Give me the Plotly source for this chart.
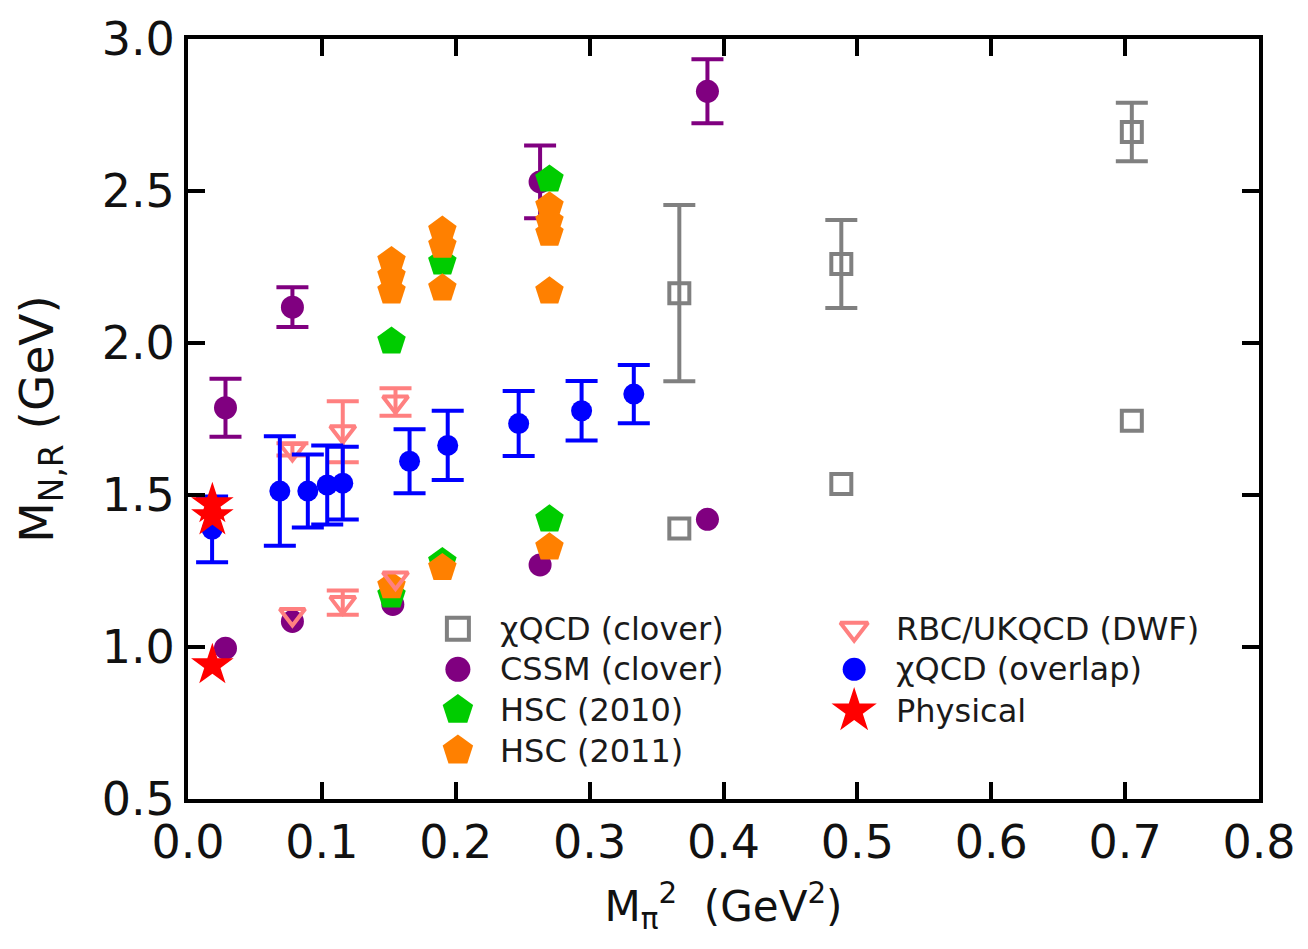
import plotly.graph_objects as go

# chiQCD (clover)
clover_x = [0.367, 0.367, 0.488, 0.488, 0.705, 0.705]
clover_y = [2.164, 1.390, 2.260, 1.536, 2.694, 1.744]
clover_err = [0.290, None, 0.145, None, 0.096, None]

# CSSM (clover)
cssm_x = [0.028, 0.028, 0.078, 0.078, 0.153, 0.263, 0.263, 0.388, 0.388]
cssm_y = [1.787, 0.996, 2.118, 1.084, 1.140, 2.530, 1.270, 2.828, 1.420]
cssm_err = [0.095, None, 0.065, None, None, 0.120, None, 0.105, None]

# HSC (2010)
hsc10_x = [0.152, 0.152, 0.190, 0.190, 0.270, 0.270]
hsc10_y = [2.005, 1.170, 2.265, 1.280, 2.538, 1.420]
hsc10_err = [None] * len(hsc10_x)

# HSC (2011)
hsc11_x = [0.152, 0.152, 0.152, 0.152, 0.190, 0.190, 0.190, 0.190,
           0.270, 0.270, 0.270, 0.270, 0.270]
hsc11_y = [2.270, 2.220, 2.170, 1.200, 2.370, 2.320, 2.180, 1.260,
           2.450, 2.400, 2.360, 2.170, 1.328]
hsc11_err = [None] * len(hsc11_x)

# RBC/UKQCD (DWF)
rbc_x = [0.078, 0.078, 0.1156, 0.1156, 0.155, 0.155]
rbc_y = [1.650, 1.107, 1.708, 1.146, 1.806, 1.227]
rbc_err = [0.020, None, 0.100, 0.040, 0.045, None]

# chiQCD (overlap)
ovl_x = [0.018, 0.0686, 0.0895, 0.104, 0.1156, 0.1655, 0.194, 0.247, 0.294, 0.333]
ovl_y = [1.387, 1.513, 1.513, 1.533, 1.539, 1.611, 1.663, 1.735, 1.777, 1.832]
ovl_err = [0.108, 0.180, 0.120, 0.130, 0.120, 0.105, 0.114, 0.107, 0.098, 0.096]

# Physical states
phys_x = [0.0182, 0.0182, 0.0182]
phys_y = [1.470, 1.430, 0.940]
phys_err = [None] * len(phys_x)

x_ticks = [0.0, 0.1, 0.2, 0.3, 0.4, 0.5, 0.6, 0.7, 0.8]
y_ticks = [0.5, 1.0, 1.5, 2.0, 2.5, 3.0]

# Legend key layout (fractions of the plotting area)
legend_labels = ["\u03c7QCD (clover)", "CSSM (clover)", "HSC (2010)", "HSC (2011)",
                 "RBC/UKQCD (DWF)", "\u03c7QCD (overlap)", "Physical"]
legend_key_x = [0.252, 0.252, 0.252, 0.252, 0.622, 0.622, 0.622]
legend_key_y = [0.224, 0.1706, 0.1172, 0.0638, 0.224, 0.1706, 0.1159]
legend_text_gap = 0.037

GRAY = "#808080"
PURPLE = "#800080"
GREEN = "#00cc00"
ORANGE = "#ff8000"
PINK = "#ff8080"
BLUE = "#0000ff"
RED = "#ff0000"
FONT = "DejaVu Sans"

series = [
    (clover_x, clover_y, clover_err,
     dict(symbol="square-open", size=20, color=GRAY, line=dict(width=4, color=GRAY))),
    (cssm_x, cssm_y, cssm_err, dict(symbol="circle", size=23, color=PURPLE)),
    (hsc10_x, hsc10_y, hsc10_err, dict(symbol="pentagon", size=30, color=GREEN)),
    (hsc11_x, hsc11_y, hsc11_err, dict(symbol="pentagon", size=30, color=ORANGE)),
    (rbc_x, rbc_y, rbc_err,
     dict(symbol="triangle-down-open", size=22, color=PINK, line=dict(width=4, color=PINK))),
    (ovl_x, ovl_y, ovl_err, dict(symbol="circle", size=21, color=BLUE)),
    (phys_x, phys_y, phys_err, dict(symbol="star", size=32, color=RED)),
]

fig = go.Figure()

for label, (xs, ys, errs, marker) in zip(legend_labels, series):
    # points carrying an error bar
    ex = [x for x, e in zip(xs, errs) if e is not None]
    ey = [y for y, e in zip(ys, errs) if e is not None]
    ee = [e for e in errs if e is not None]
    # points drawn without an error bar
    nx = [x for x, e in zip(xs, errs) if e is None]
    ny = [y for y, e in zip(ys, errs) if e is None]
    if ex:
        fig.add_trace(go.Scatter(
            x=ex, y=ey, mode="markers", name=label, showlegend=False,
            marker=marker,
            error_y=dict(type="data", array=ee, visible=True, color=marker["color"],
                         thickness=4, width=16)))
    if nx:
        fig.add_trace(go.Scatter(x=nx, y=ny, mode="markers", name=label,
                                 showlegend=False, marker=marker))

# legend keys and labels on an overlay axis spanning the plotting area
for label, (_, _, _, marker), kx, ky in zip(legend_labels, series, legend_key_x, legend_key_y):
    key_marker = dict(marker)
    key_marker["size"] = marker["size"] + 2
    fig.add_trace(go.Scatter(x=[kx], y=[ky], mode="markers", xaxis="x2", yaxis="y2",
                             showlegend=False, hoverinfo="skip", marker=key_marker))
    fig.add_annotation(x=kx + legend_text_gap, y=ky, xref="x2", yref="y2",
                       text=label, showarrow=False, xanchor="left", yanchor="middle",
                       font=dict(family=FONT, size=32, color="#1a1a1a"))

axis_common = dict(
    showline=True, linecolor="black", linewidth=4, mirror="ticks",
    ticks="inside", ticklen=17, tickwidth=4, tickcolor="black",
    showgrid=False, zeroline=False,
    tickfont=dict(family=FONT, size=46, color="#111"),
)

fig.update_layout(
    width=1308, height=949,
    margin=dict(l=188, r=47, t=31, b=150),
    plot_bgcolor="white", paper_bgcolor="white",
    showlegend=False,
    xaxis=dict(range=[0.0, 0.8], tickvals=x_ticks,
               ticktext=[f"{v:.1f}" for v in x_ticks],
               title=dict(text="M<sub>\u03c0</sub><sup>2</sup>  (GeV<sup>2</sup>)",
                          font=dict(family=FONT, size=42, color="#111"), standoff=24),
               **axis_common),
    yaxis=dict(range=[0.5, 3.0], tickvals=y_ticks,
               ticktext=[f"{v:.1f}" for v in y_ticks],
               title=dict(text="M<sub>N,R</sub> (GeV)",
                          font=dict(family=FONT, size=47, color="#111"), standoff=34),
               **axis_common),
    xaxis2=dict(overlaying="x", range=[0, 1], visible=False, fixedrange=True),
    yaxis2=dict(overlaying="y", range=[0, 1], visible=False, fixedrange=True),
)

fig.write_html("out.html")
